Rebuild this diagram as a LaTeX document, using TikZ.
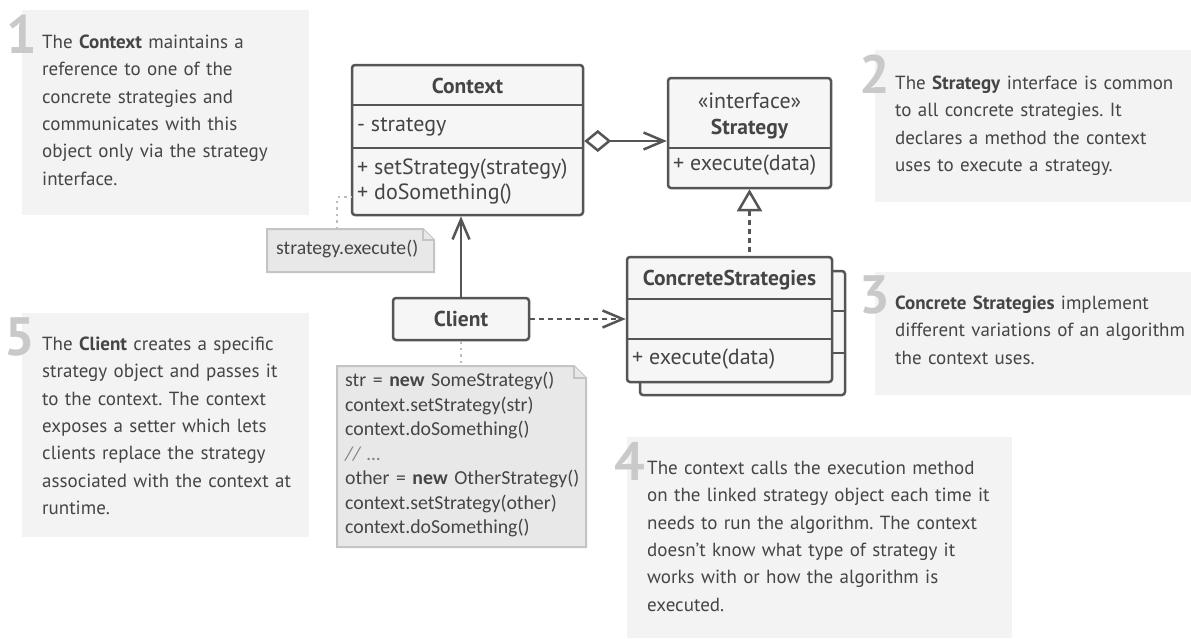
\documentclass[tikz,border=0pt]{standalone}
\usepackage{fontspec}
\setmainfont{PT Sans}
\newfontfamily\notefont{Carlito}
\usetikzlibrary{arrows.meta,calc}
\definecolor{descbg}{HTML}{F3F3F3}
\definecolor{numgray}{HTML}{C9C9C9}
\definecolor{txt}{HTML}{454545}
\definecolor{umlline}{HTML}{555555}
\definecolor{umlfill}{HTML}{F6F6F6}
\definecolor{notefill}{HTML}{E8E8E8}
\definecolor{noteline}{HTML}{C4C4C4}
\definecolor{dotgray}{HTML}{BDBDBD}
\frenchspacing
\tikzset{
  descbox/.style={fill=descbg, inner sep=0pt},
  desctxt/.style={text=txt, font=\fontsize{19}{27.3}\selectfont, text width=440pt, align=left, inner sep=0pt, anchor=mid west},
  num/.style={text=numgray, font=\fontsize{54}{54}\selectfont\bfseries, inner sep=0pt, anchor=base east},
  umlbox/.style={draw=umlline, line width=2.5pt, fill=umlfill, rounded corners=3pt, inner sep=0pt},
  umlsep/.style={draw=umlline, line width=2.5pt},
  umltxt/.style={text=txt, font=\fontsize{22}{24}\selectfont, inner sep=0pt},
  umlbold/.style={umltxt, font=\fontsize{21.5}{24}\selectfont\bfseries},
  conn/.style={draw=umlline, line width=2.5pt},
  dashconn/.style={conn, dash pattern=on 5pt off 4pt},
  openarrow/.style={-{Straight Barb[length=20pt,width=17pt]}},
  dotline/.style={draw=dotgray, line width=2.5pt, dash pattern=on 2.5pt off 4pt},
  noteshape/.style={fill=notefill, draw=noteline, line width=2pt},
  notetxt/.style={text=txt, font=\notefont\fontsize{19.8}{24.5}\selectfont, inner sep=0pt},
  anchorbox/.style={inner sep=0pt, outer sep=0pt}
}
\begin{document}
\begin{tikzpicture}[x=1pt,y=-1pt]
\useasboundingbox (0,0) rectangle (1191,638);
\fill[white] (0,0) rectangle (1191,638);

% description boxes
\node[descbox, minimum width=287pt, minimum height=205pt] (d1) at (165.5,112.5) {};
\node[descbox, minimum width=316pt, minimum height=152pt] (d2) at (1033,126) {};
\node[descbox, minimum width=316pt, minimum height=123pt] (d3) at (1033,333.5) {};
\node[descbox, minimum width=385pt, minimum height=201pt] (d4) at (819.5,537.5) {};
\node[descbox, minimum width=287pt, minimum height=224pt] (d5) at (165.5,425) {};

\node[num] (n1num) at (37,53) {1};
\node[num] (n2num) at (890,93) {2};
\node[num] (n3num) at (890,313) {3};
\node[num] (n4num) at (645,480) {4};
\node[num] (n5num) at (35,355) {5};

\node[desctxt] (t1) at (42,46) {The \textbf{Context} maintains a\\reference to one of the\\concrete strategies and\\communicates with this\\object only via the strategy\\interface.};
\node[desctxt] (t2) at (895,87) {The \textbf{Strategy} interface is common\\to all concrete strategies. It\\declares a method the context\\uses to execute a strategy.};
\node[desctxt] (t3) at (895,307) {\textbf{Concrete Strategies} implement\\different variations of an algorithm\\the context uses.};
\node[desctxt] (t4) at (647,472) {The context calls the execution method\\on the linked strategy object each time it\\needs to run the algorithm. The context\\doesn’t know what type of strategy it\\works with or how the algorithm is\\executed.};
\node[desctxt] (t5) at (42,348) {The \textbf{Client} creates a specific\\strategy object and passes it\\to the context. The context\\exposes a setter which lets\\clients replace the strategy\\associated with the context at\\runtime.};

% Context class
\node[umlbox, minimum width=231pt, minimum height=150pt] (context) at (467.5,140) {};
\draw[umlsep] (context.west |- 0,105) -- (context.east |- 0,105);
\draw[umlsep] (context.west |- 0,148) -- (context.east |- 0,148);
\node[umlbold] (ctitle) at (467.5,86) {Context};
\node[umltxt, anchor=mid west] (cattr) at (357,129) {- strategy};
\node[umltxt, anchor=mid west] (cm1) at (357,172) {+ setStrategy(strategy)};
\node[umltxt, anchor=mid west] (cm2) at (357,197) {+ doSomething()};

% Strategy interface
\node[umlbox, minimum width=163pt, minimum height=110pt] (strategy) at (749.5,133) {};
\draw[umlsep] (strategy.west |- 0,148) -- (strategy.east |- 0,148);
\node[umltxt] (sster) at (749.5,101) {«interface»};
\node[umlbold] (stitle) at (749.5,129) {Strategy};
\node[umltxt, anchor=mid west] (sm) at (673,168) {+ execute(data)};

% Concrete strategies (stacked)
\node[umlbox, minimum width=205pt, minimum height=124pt] (back) at (742.5,333) {};
\draw[umlsep] (back.west |- 0,311) -- (back.east |- 0,311);
\draw[umlsep] (back.west |- 0,353) -- (back.east |- 0,353);
\node[umlbox, minimum width=205pt, minimum height=125pt] (front) at (729.5,319.5) {};
\draw[umlsep] (front.west |- 0,299) -- (front.east |- 0,299);
\draw[umlsep] (front.west |- 0,339) -- (front.east |- 0,339);
\node[umlbold] (ftitle) at (729.5,280) {ConcreteStrategies};
\node[umltxt, anchor=mid west] (fm) at (632,362) {+ execute(data)};

% Client
\node[umlbox, minimum width=136pt, minimum height=42pt, font=\fontsize{21.5}{24}\selectfont\bfseries, text=txt] (client) at (461,319) {Client};

% notes
\node[anchorbox, minimum width=167pt, minimum height=43pt] (note1) at (350.5,250.5) {};
\filldraw[noteshape] (note1.south west) -- (note1.north west) -- ($(note1.north east)+(-11,0)$) -- ($(note1.north east)+(0,11)$) -- (note1.south east) -- cycle;
\draw[noteshape] ($(note1.north east)+(-11,0)$) -- ($(note1.north east)+(-11,11)$) -- ($(note1.north east)+(0,11)$);
\node[notetxt, anchor=mid west, font=\notefont\fontsize{19.7}{24}\selectfont] (note1txt) at (276,252) {strategy.execute()};

\node[anchorbox, minimum width=249pt, minimum height=181pt] (note2) at (461.5,456.5) {};
\filldraw[noteshape] (note2.south west) -- (note2.north west) -- ($(note2.north east)+(-12,0)$) -- ($(note2.north east)+(0,12)$) -- (note2.south east) -- cycle;
\draw[noteshape] ($(note2.north east)+(-12,0)$) -- ($(note2.north east)+(-12,12)$) -- ($(note2.north east)+(0,12)$);
\node[notetxt, anchor=mid west, text width=400pt, align=left] (note2txt) at (345,384) {str = \textbf{new} SomeStrategy()\\context.setStrategy(str)\\context.doSomething()\\\textcolor{gray}{\textit{// \ldots}}\\other = \textbf{new} OtherStrategy()\\context.setStrategy(other)\\context.doSomething()};

% connectors
\draw[dotline] ($(note1.north west)+(70,0)$) |- (context.west |- 0,197);
\draw[dotline] (client.south) -- (client.south |- note2.north);
\draw[conn, {Diamond[fill=white,length=27pt,width=22pt]}-{Straight Barb[length=20pt,width=17pt]}] (context.east |- 0,141) -- (strategy.west |- 0,141);
\draw[dashconn, {Triangle[fill=white,length=22pt,width=25pt]}-] (strategy.south) -- (strategy.south |- front.north);
\draw[conn, openarrow] (client.north) -- (client.north |- context.south);
\draw[dashconn, openarrow] (client.east) -- (client.east -| front.west);
\end{tikzpicture}
\end{document}
